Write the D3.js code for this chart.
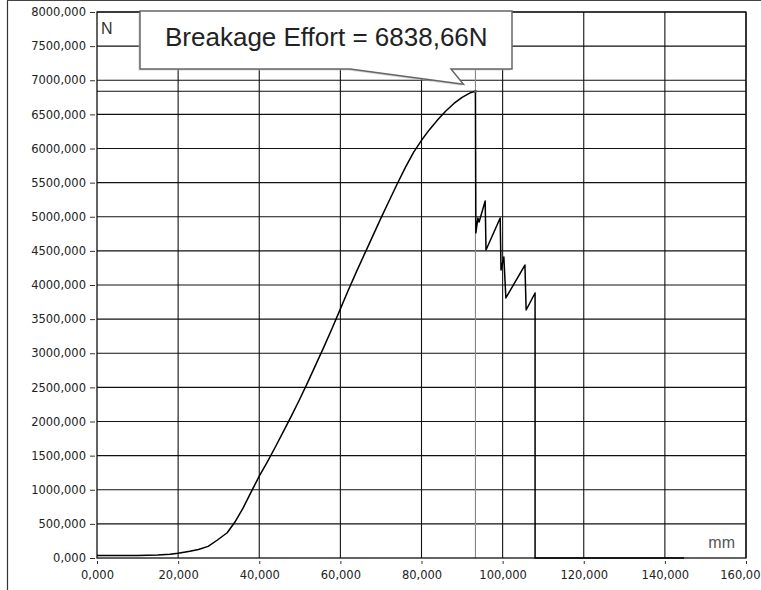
<!DOCTYPE html>
<html>
<head>
<meta charset="utf-8">
<script src="https://cdn.jsdelivr.net/npm/d3@7"></script>
<style>
  html, body { margin: 0; padding: 0; background: #fff; }
  svg { display: block; }
</style>
</head>
<body>
<svg id="chart" width="761" height="590"></svg>
<script>
// Tensile test: force (N) against elongation (mm)
const elongationMm = [
  0, 5, 10, 15, 18, 20, 22.9, 25, 27.4, 29.6, 32.1, 34, 36, 38.2, 40, 42, 44, 46, 48, 50,
  52, 54, 56, 58, 60, 62, 64, 66, 68, 70, 72, 74, 76, 78, 80, 82, 84, 86, 88, 90, 92, 93.3,
  93.4, 93.9, 94.2, 95.7, 95.9, 99.4, 99.6, 100.3, 100.8, 105.5, 105.8, 108, 108, 144.7
];
const forceN = [
  35, 35, 38, 45, 55, 70, 100, 125, 170, 260, 370, 527, 730, 990, 1200, 1410, 1630, 1860, 2090, 2330,
  2580, 2840, 3100, 3370, 3650, 3930, 4200, 4460, 4720, 4980, 5230, 5480, 5720, 5940, 6120, 6280, 6420, 6550, 6660, 6750, 6815, 6838.66,
  4762, 4982, 4923, 5231, 4513, 4982, 4220, 4410, 3810, 4293, 3634, 3883, 0, 0
];

const breakage = { mm: 93.3, force: 6838.66 };
const breakageLabel = "Breakage Effort = 6838,66N";

const xTicks = [0, 20, 40, 60, 80, 100, 120, 140, 160];
const xTickLabels = ["0,000", "20,000", "40,000", "60,000", "80,000", "100,000", "120,000", "140,000", "160,00"];
const yTicks = [0, 500, 1000, 1500, 2000, 2500, 3000, 3500, 4000, 4500, 5000, 5500, 6000, 6500, 7000, 7500, 8000];
const yTickLabels = ["0,000", "500,000", "1000,000", "1500,000", "2000,000", "2500,000", "3000,000", "3500,000",
  "4000,000", "4500,000", "5000,000", "5500,000", "6000,000", "6500,000", "7000,000", "7500,000", "8000,000"];

const plot = { left: 97, right: 746, top: 12, bottom: 558 };

const svg = d3.select("#chart");

const x = d3.scaleLinear().domain([0, 160]).range([plot.left, plot.right]);
const y = d3.scaleLinear().domain([0, 8000]).range([plot.bottom, plot.top]);

// outer frame (left and top edges of the panel)
svg.append("line").attr("x1", 7.5).attr("x2", 7.5).attr("y1", 0).attr("y2", 590)
  .attr("stroke", "#333").attr("stroke-width", 1.2);
svg.append("line").attr("x1", 7).attr("x2", 761).attr("y1", 0.5).attr("y2", 0.5)
  .attr("stroke", "#444").attr("stroke-width", 1.2);

// grid
const grid = svg.append("g").attr("stroke", "#111").attr("stroke-width", 1.1);
grid.selectAll("line.h").data(yTicks.slice(1)).join("line")
  .attr("x1", plot.left).attr("x2", plot.right)
  .attr("y1", d => y(d)).attr("y2", d => y(d));
grid.selectAll("line.v").data(xTicks.slice(1)).join("line")
  .attr("y1", plot.top).attr("y2", plot.bottom)
  .attr("x1", d => x(d)).attr("x2", d => x(d));

// cursor lines through the breakage point
grid.append("line").attr("x1", plot.left).attr("x2", plot.right)
  .attr("y1", y(breakage.force)).attr("y2", y(breakage.force));
grid.append("line").attr("y1", plot.top).attr("y2", plot.bottom)
  .attr("x1", x(breakage.mm)).attr("x2", x(breakage.mm)).attr("stroke", "#888");

// plot border
svg.append("rect").attr("x", plot.left).attr("y", plot.top)
  .attr("width", plot.right - plot.left).attr("height", plot.bottom - plot.top)
  .attr("fill", "none").attr("stroke", "#111").attr("stroke-width", 1.3);

// force curve
const pts = elongationMm.map((m, i) => [m, forceN[i]]);
svg.append("path").datum(pts)
  .attr("fill", "none").attr("stroke", "#000").attr("stroke-width", 1.5)
  .attr("stroke-linejoin", "round")
  .attr("d", d3.line().x(d => x(d[0])).y(d => y(d[1])));

// axes
const yAxis = d3.axisLeft(y).tickValues(yTicks).tickSize(7).tickPadding(3)
  .tickFormat((d, i) => yTickLabels[i]);
const gy = svg.append("g").attr("transform", `translate(${plot.left - 1},0)`).call(yAxis);
gy.select(".domain").remove();
gy.selectAll(".tick line").attr("stroke", "#333").attr("x2", -6).attr("x1", -1);
gy.selectAll("text").attr("font-family", "DejaVu Sans, sans-serif").attr("font-size", 11.5)
  .attr("fill", "#222").attr("x", -10);

const xAxis = d3.axisBottom(x).tickValues(xTicks).tickSize(4).tickPadding(8)
  .tickFormat((d, i) => xTickLabels[i]);
const gx = svg.append("g").attr("transform", `translate(0,${plot.bottom + 1})`).call(xAxis);
gx.select(".domain").remove();
gx.selectAll(".tick line").attr("stroke", "#333").attr("y1", 2).attr("y2", 5);
gx.selectAll("text").attr("font-family", "DejaVu Sans, sans-serif").attr("font-size", 11.5)
  .attr("fill", "#222");
// last label sits against the right edge of the panel
gx.selectAll(".tick").filter(d => d === 160).select("text")
  .attr("text-anchor", "end").attr("x", 760 - x(160));

// unit labels
svg.append("text").attr("x", plot.left + 4).attr("y", 34)
  .attr("font-family", "Liberation Sans, Arial, sans-serif").attr("font-size", 16)
  .attr("fill", "#333").text("N");
svg.append("text").attr("x", 735).attr("y", 548).attr("text-anchor", "end")
  .attr("font-family", "Liberation Sans, Arial, sans-serif").attr("font-size", 16)
  .attr("fill", "#555").text("mm");

// callout for the breakage point
const bx = x(breakage.mm), by = y(breakage.force);
const tip = [bx - 12, by - 7];
const box = { x0: 140, y0: 11, x1: 512, y1: 69, gapL: 350, gapR: 451 };
const callout = `M${box.gapL},${box.y1} L${tip[0]},${tip[1]} L${box.gapR},${box.y1} L${box.x1},${box.y1}
  L${box.x1},${box.y0} L${box.x0},${box.y0} L${box.x0},${box.y1} Z`;
svg.append("path").attr("d", callout).attr("transform", "translate(-1.5,1.5)")
  .attr("fill", "#bbb").attr("opacity", 0.6);
svg.append("path").attr("d", callout)
  .attr("fill", "#fff").attr("stroke", "#666").attr("stroke-width", 1.5).attr("stroke-linejoin", "miter");
svg.append("text").attr("x", 165).attr("y", 46)
  .attr("font-family", "Liberation Sans, Arial, sans-serif").attr("font-size", 26)
  .attr("fill", "#222").text(breakageLabel);
svg.append("circle").attr("cx", bx).attr("cy", by).attr("r", 1.5).attr("fill", "#555");
</script>
</body>
</html>
